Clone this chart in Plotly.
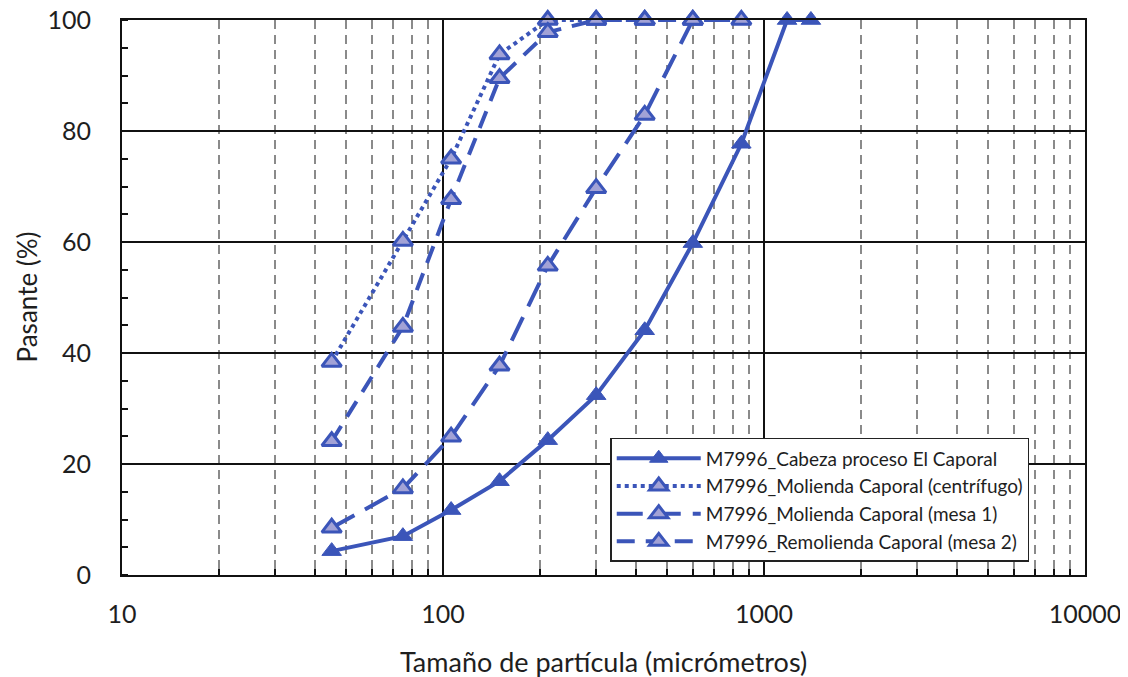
import plotly.graph_objects as go

# Data
sizes_cabeza = [45, 75, 106, 150, 212, 300, 425, 600, 850, 1180, 1400]
pass_cabeza = [4.3, 7.0, 11.7, 16.9, 24.3, 32.4, 44.1, 59.8, 77.7, 100, 100]

sizes_centri = [45, 75, 106, 150, 212, 300, 425]
pass_centri = [38.4, 60.2, 75.0, 93.8, 100, 100, 100]

sizes_mesa1 = [45, 75, 106, 150, 212, 300, 425, 600, 850]
pass_mesa1 = [8.5, 15.6, 24.9, 37.7, 55.7, 69.7, 82.9, 100, 100]

sizes_mesa2 = [45, 75, 106, 150, 212, 300, 425, 600]
pass_mesa2 = [24.1, 44.7, 67.7, 89.5, 97.8, 100, 100, 100]

names = [
    "M7996_Cabeza proceso El Caporal",
    "M7996_Molienda Caporal (centrífugo)",
    "M7996_Molienda Caporal (mesa 1)",
    "M7996_Remolienda Caporal (mesa 2)",
]

x_tick_vals = [10, 100, 1000, 10000]
x_tick_text = ["10", "100", "1000", "10000"]
x_minor_vals = [20, 30, 40, 50, 60, 70, 80, 90, 200, 300, 400, 500, 600, 700, 800, 900,
                2000, 3000, 4000, 5000, 6000, 7000, 8000, 9000]
y_tick_vals = [0, 20, 40, 60, 80, 100]

BLUE = "#3B55B9"
LIGHT = "#A2A2D6"
FONT = "Lato, 'Open Sans', sans-serif"
TXT = "#1e1e1e"

fig = go.Figure()

fig.add_trace(go.Scatter(
    x=sizes_centri, y=pass_centri, name=names[1], mode="lines+markers",
    line=dict(color=BLUE, width=4, dash="dot"),
    marker=dict(symbol="triangle-up", size=17, color=LIGHT, line=dict(color=BLUE, width=3)),
    cliponaxis=False, legendrank=2,
))
fig.add_trace(go.Scatter(
    x=sizes_mesa1, y=pass_mesa1, name=names[2], mode="lines+markers",
    line=dict(color=BLUE, width=4, dash="26px,12px"),
    marker=dict(symbol="triangle-up", size=17, color=LIGHT, line=dict(color=BLUE, width=3)),
    cliponaxis=False, legendrank=3,
))
fig.add_trace(go.Scatter(
    x=sizes_mesa2, y=pass_mesa2, name=names[3], mode="lines+markers",
    line=dict(color=BLUE, width=4, dash="18px,11px"),
    marker=dict(symbol="triangle-up", size=17, color=LIGHT, line=dict(color=BLUE, width=3)),
    cliponaxis=False, legendrank=4,
))
fig.add_trace(go.Scatter(
    x=sizes_cabeza, y=pass_cabeza, name=names[0], mode="lines+markers",
    line=dict(color=BLUE, width=4),
    marker=dict(symbol="triangle-up", size=17, color=BLUE, line=dict(color=BLUE, width=1)),
    cliponaxis=False, legendrank=1,
))

fig.update_layout(
    width=1120, height=669,
    margin=dict(l=114, r=43, t=12, b=102),
    paper_bgcolor="white", plot_bgcolor="white",
    font=dict(family=FONT, color=TXT, size=25),
    showlegend=True,
    legend=dict(
        x=0.507, y=0.247, xanchor="left", yanchor="top",
        bgcolor="white", bordercolor="#222222", borderwidth=1.5,
        font=dict(size=19, family=FONT, color=TXT), tracegroupgap=0, itemwidth=84,
    ),
    xaxis=dict(
        type="log", range=[1, 4], automargin=False,
        tickvals=x_tick_vals, ticktext=x_tick_text, ticklabeloverflow="allow",
        showgrid=True, gridcolor="#111111", gridwidth=1.5,
        showline=True, linecolor="#111111", linewidth=2, mirror=True,
        ticks="", tickfont=dict(size=25), ticklabelstandoff=16,
        minor=dict(tickvals=x_minor_vals,
                   ticks="inside", ticklen=6, tickcolor="#111111", tickwidth=1.5,
                   showgrid=True, gridcolor="#8a8a8a", griddash="9px,6px", gridwidth=1.5),
        zeroline=False,
    ),
    yaxis=dict(
        range=[0, 100], tickvals=y_tick_vals, automargin=False, ticklabeloverflow="allow",
        showgrid=True, gridcolor="#111111", gridwidth=1.5,
        showline=True, linecolor="#111111", linewidth=2, mirror=True,
        ticks="", tickfont=dict(size=25), ticklabelstandoff=24,
        minor=dict(dtick=5, ticks="inside", ticklen=6, tickcolor="#111111", tickwidth=1.5, showgrid=False),
        zeroline=False,
    ),
    annotations=[
        dict(text="Tamaño de partícula (micrómetros)", xref="paper", yref="paper",
             x=0.5, y=0, yshift=-86, xanchor="center", yanchor="middle",
             showarrow=False, font=dict(size=27, family=FONT, color=TXT)),
        dict(text="Pasante (%)", xref="paper", yref="paper",
             x=0, y=0.5, xshift=-96, xanchor="center", yanchor="middle", textangle=-90,
             showarrow=False, font=dict(size=26, family=FONT, color=TXT)),
    ],
)

fig.write_html("out.html")
